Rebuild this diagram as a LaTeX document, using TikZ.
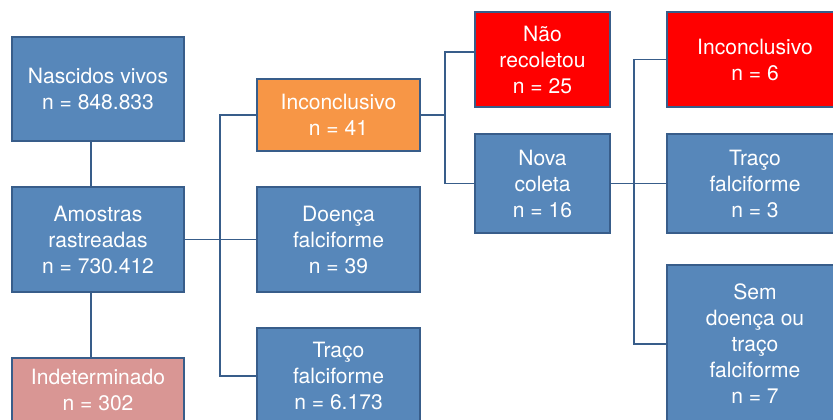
\documentclass[tikz,border=0pt]{standalone}
\usepackage{fontspec}
\setmainfont{TeX Gyre Heros}
\usetikzlibrary{calc}
\definecolor{boxblue}{RGB}{87,135,186}
\definecolor{boxline}{RGB}{56,93,138}
\definecolor{boxorange}{RGB}{247,150,70}
\definecolor{boxred}{RGB}{255,0,0}
\definecolor{boxpink}{RGB}{217,150,148}
\tikzset{
	box/.style={draw=boxline, line width=1.4pt, fill=boxblue, text=white, align=center,
		font=\fontsize{15.8}{19.5}\selectfont, inner sep=2pt},
	link/.style={draw=boxline, line width=1.4pt}
}

\begin{document}
\begin{tikzpicture}[x=0.75pt,y=-0.75pt]
		%%%%% START %%%%%
		\useasboundingbox (0,0) rectangle (833,420);
		\clip (0,0) rectangle (833,420);
		
		% first column
		\node[box, minimum width=129pt, minimum height=78pt] (nasc) at (98,89) {Nascidos vivos\\n = 848.833};
		\node[box, minimum width=129pt, minimum height=78.75pt] (amos) at (98,239.5) {Amostras\\rastreadas\\n = 730.412};
		\node[box, fill=boxpink, minimum width=129pt, minimum height=48pt] (indet) at (98,390) {Indeterminado\\n = 302};
		
		% second column
		\node[box, fill=boxorange, minimum width=122.25pt, minimum height=54pt] (inc) at (338.5,115) {Inconclusivo\\n = 41};
		\node[box, minimum width=122.25pt, minimum height=78.75pt] (doenca) at (338.5,239.5) {Doença\\falciforme\\n = 39};
		\node[box, minimum width=122.25pt, minimum height=72pt] (traco) at (338.5,376) {Traço\\falciforme\\n = 6.173};
		
		% third column
		\node[box, fill=boxred, minimum width=101.25pt, minimum height=71.25pt] (nao) at (542.5,59.5) {Não\\recoletou\\n = 25};
		\node[box, minimum width=101.25pt, minimum height=74.25pt] (nova) at (542.5,183.5) {Nova\\coleta\\n = 16};
		
		% fourth column
		\node[box, fill=boxred, minimum width=132pt, minimum height=71.25pt] (incb) at (755,59.5) {Inconclusivo\\n = 6};
		\node[box, minimum width=132pt, minimum height=74.25pt] (tracob) at (755,183.5) {Traço\\falciforme\\n = 3};
		\node[box, minimum width=132pt, minimum height=118.5pt] (sem) at (755,344) {Sem\\doença ou\\traço\\falciforme\\n = 7};
		
		% links
		\coordinate (busa) at (220,239.5);
		\coordinate (busb) at (445,115);
		\coordinate (busc) at (634,183.5);
		\draw[link] ($(nasc.south)+(-7,0)$) -- ($(amos.north)+(-7,0)$);
		\draw[link] ($(amos.south)+(-7,0)$) -- ($(indet.north)+(-7,0)$);
		\draw[link] (amos.east) -- (doenca.west);
		\draw[link] (inc.west) -| (busa) |- (traco.west);
		\draw[link] (inc.east) -- (busb);
		\draw[link] ($(nao.west)+(0,-7.5)$) -| (busb) |- (nova.west);
		\draw[link] (nova.east) -- (tracob.west);
		\draw[link] (incb.west) -| (busc) |- (sem.west);
		%%%%% END %%%%%
\end{tikzpicture}
\end{document}
